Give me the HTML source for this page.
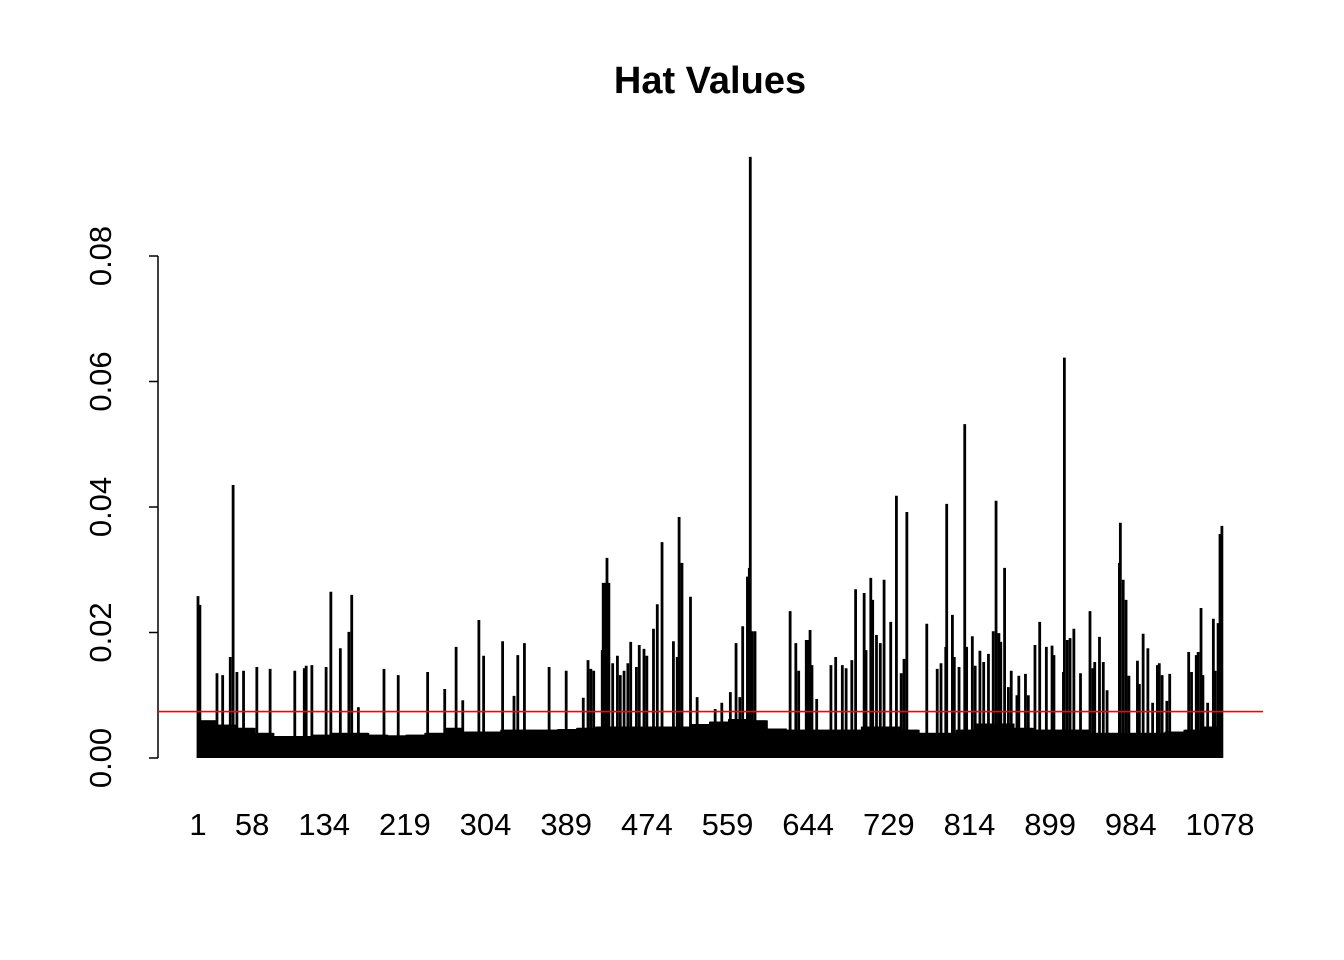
<!DOCTYPE html>
<html><head><meta charset="utf-8"><style>
html,body{margin:0;padding:0;background:#fff;}
svg{display:block;font-family:"Liberation Sans",Arial,sans-serif;}
</style></head><body>
<svg id="chart" width="1344" height="960" viewBox="0 0 1344 960" xmlns="http://www.w3.org/2000/svg">
<rect width="1344" height="960" fill="#fff"/>
<text x="710" y="93" text-anchor="middle" font-size="38" font-weight="bold">Hat Values</text>
<g id="bars"></g>
<g id="yaxis"></g>
<g id="xlabels"></g>
<g id="ref"></g>
</svg>
<script>
// ---- data ----
const nObs = 1080;
const baseBins = [0.0060,0.0053,0.0048,0.0040,0.0035,0.0035,0.0037,0.0040,0.0040,0.0037,0.0036,0.0037,0.0040,0.0048,0.0042,0.0042,0.0045,0.0045,0.0045,0.0046,0.0048,0.0050,0.0050,0.0050,0.0050,0.0050,0.0054,0.0058,0.0062,0.0060,0.0047,0.0045,0.0045,0.0045,0.0045,0.0050,0.0050,0.0045,0.0040,0.0040,0.0045,0.0055,0.0055,0.0048,0.0045,0.0045,0.0045,0.0040,0.0040,0.0040,0.0040,0.0042,0.0045,0.0050];
const spikeIdx = [1,3,21,27,35,38,42,49,63,77,103,113,115,121,136,141,151,160,163,170,197,212,243,261,273,280,297,302,322,334,338,345,371,389,407,412,415,418,427,428,430,432,434,438,443,446,450,454,457,463,466,471,474,481,485,490,502,506,508,511,520,527,546,553,562,568,572,575,580,582,583,585,588,625,631,634,642,644,646,648,653,668,673,680,684,690,694,703,705,710,712,716,720,724,731,737,742,745,748,769,780,784,789,790,796,798,803,809,811,817,820,825,829,834,839,842,845,847,851,855,858,864,866,873,876,883,888,895,901,903,913,914,917,920,924,931,941,944,946,951,955,959,972,973,976,979,982,991,993,997,1002,1007,1012,1014,1017,1022,1025,1045,1048,1053,1055,1058,1060,1065,1071,1073,1076,1078,1080];
const spikeVal = [0.0258,0.0244,0.0135,0.0132,0.0161,0.0435,0.0137,0.0139,0.0145,0.0142,0.0139,0.0143,0.0147,0.0148,0.0145,0.0265,0.0175,0.0201,0.0260,0.0081,0.0142,0.0132,0.0137,0.0110,0.0177,0.0092,0.0220,0.0163,0.0186,0.0099,0.0164,0.0183,0.0145,0.0139,0.0096,0.0156,0.0142,0.0139,0.0172,0.0279,0.0279,0.0319,0.0279,0.0151,0.0163,0.0132,0.0139,0.0151,0.0185,0.0145,0.0180,0.0174,0.0163,0.0206,0.0245,0.0344,0.0186,0.0161,0.0384,0.0311,0.0257,0.0097,0.0078,0.0088,0.0105,0.0183,0.0097,0.0210,0.0289,0.0303,0.0958,0.0202,0.0202,0.0234,0.0183,0.0139,0.0188,0.0188,0.0204,0.0148,0.0094,0.0148,0.0161,0.0148,0.0143,0.0156,0.0269,0.0263,0.0172,0.0287,0.0252,0.0196,0.0183,0.0284,0.0217,0.0418,0.0135,0.0158,0.0392,0.0214,0.0142,0.0151,0.0177,0.0405,0.0228,0.0161,0.0145,0.0532,0.0177,0.0194,0.0147,0.0171,0.0153,0.0166,0.0202,0.0410,0.0199,0.0185,0.0303,0.0113,0.0139,0.0100,0.0131,0.0134,0.0100,0.0180,0.0217,0.0177,0.0179,0.0164,0.0137,0.0638,0.0188,0.0191,0.0206,0.0135,0.0234,0.0143,0.0153,0.0193,0.0153,0.0108,0.0311,0.0375,0.0284,0.0252,0.0131,0.0155,0.0118,0.0198,0.0175,0.0088,0.0148,0.0151,0.0132,0.0091,0.0134,0.0169,0.0137,0.0164,0.0169,0.0239,0.0132,0.0088,0.0222,0.0139,0.0215,0.0357,0.0370];
const yTicks = [0, 0.02, 0.04, 0.06, 0.08];
const yTickLabels = ["0.00","0.02","0.04","0.06","0.08"];
const xLabelIdx = [1,58,134,219,304,389,474,559,644,729,814,899,984,1078];
const refValue = 0.0074;

// ---- scales ----
const NS = "http://www.w3.org/2000/svg";
function xs(i){ return 198 + (i - 1) * (1022 / 1077); }
function ys(v){ return 758 - v * (502 / 0.08); }

const hat = [];
for (let i = 0; i < nObs; i++) hat.push(baseBins[Math.floor(i / 20)]);
for (let k = 0; k < spikeIdx.length; k++) {
  const j = spikeIdx[k] - 1;
  if (j >= 0 && j < nObs) hat[j] = Math.max(hat[j], spikeVal[k]);
}

const gBars = document.getElementById('bars');
for (let i = 0; i < nObs; i++) {
  const l = document.createElementNS(NS, 'line');
  const x = xs(i + 1);
  l.setAttribute('x1', x); l.setAttribute('x2', x);
  l.setAttribute('y1', ys(0)); l.setAttribute('y2', ys(hat[i]));
  l.setAttribute('stroke', '#000'); l.setAttribute('stroke-width', '2.8');
  
  
  gBars.appendChild(l);
}

const gY = document.getElementById('yaxis');
const ax = document.createElementNS(NS, 'line');
ax.setAttribute('x1', 158); ax.setAttribute('x2', 158);
ax.setAttribute('y1', ys(yTicks[0])); ax.setAttribute('y2', ys(yTicks[yTicks.length - 1]));
ax.setAttribute('stroke', '#000'); ax.setAttribute('stroke-width', '1.5');


gY.appendChild(ax);
for (let k = 0; k < yTicks.length; k++) {
  const y = ys(yTicks[k]);
  const t = document.createElementNS(NS, 'line');
  t.setAttribute('x1', 149); t.setAttribute('x2', 158);
  t.setAttribute('y1', y); t.setAttribute('y2', y);
  t.setAttribute('stroke', '#000'); t.setAttribute('stroke-width', '1.5');
  
  
  gY.appendChild(t);
  const tx = document.createElementNS(NS, 'text');
  tx.setAttribute('transform', 'translate(111,' + y + ') rotate(-90)');
  tx.setAttribute('text-anchor', 'middle');
  tx.setAttribute('font-size', '31');
  tx.textContent = yTickLabels[k];
  
  
  gY.appendChild(tx);
}

const gX = document.getElementById('xlabels');
for (let k = 0; k < xLabelIdx.length; k++) {
  const tx = document.createElementNS(NS, 'text');
  tx.setAttribute('x', xs(xLabelIdx[k]));
  tx.setAttribute('y', 835);
  tx.setAttribute('text-anchor', 'middle');
  tx.setAttribute('font-size', '31');
  tx.textContent = String(xLabelIdx[k]);
  
  
  gX.appendChild(tx);
}

const gR = document.getElementById('ref');
const rl = document.createElementNS(NS, 'line');
rl.setAttribute('x1', 158); rl.setAttribute('x2', 1263);
rl.setAttribute('y1', ys(refValue)); rl.setAttribute('y2', ys(refValue));
rl.setAttribute('stroke', '#ff0000'); rl.setAttribute('stroke-width', '1.6');


gR.appendChild(rl);
</script>
</body></html>
